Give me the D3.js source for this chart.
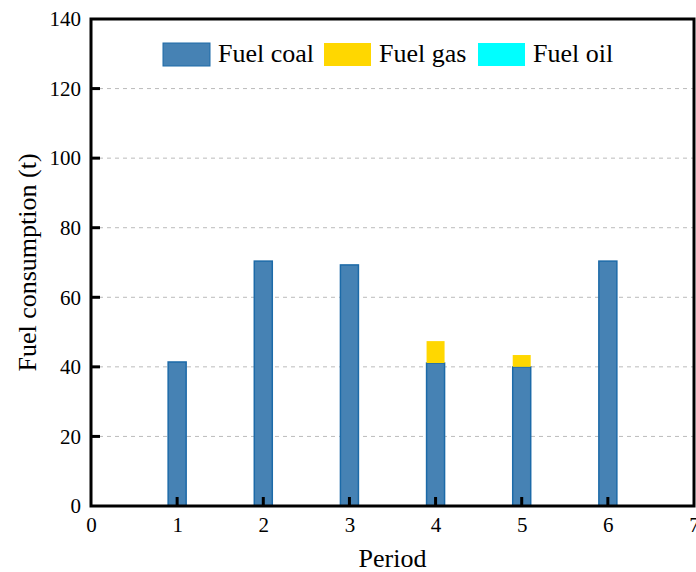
<!DOCTYPE html>
<html>
<head>
<meta charset="utf-8">
<script src="https://cdn.jsdelivr.net/npm/d3@7"></script>
<style>
  body { margin: 0; background: #fff; }
  svg { display: block; font-family: "Liberation Serif", "DejaVu Serif", serif; }
</style>
</head>
<body>
<div id="chart-area"></div>
<script>
const periods = [1, 2, 3, 4, 5, 6]
const fuelCoal = [41.4, 70.4, 69.3, 41.1, 40.0, 70.4]
const fuelGas = [0, 0, 0, 6.3, 3.4, 0]
const fuelOil = [0, 0, 0, 0, 0, 0]
const seriesNames = ["Fuel coal", "Fuel gas", "Fuel oil"]
const seriesColors = ["#4682b4", "#ffd700", "#00ffff"]
const xTicks = [0, 1, 2, 3, 4, 5, 6, 7]
const yTicks = [0, 20, 40, 60, 80, 100, 120, 140]

const MARGIN = { LEFT: 91, RIGHT: 2, TOP: 19, BOTTOM: 66 }
const WIDTH = 696 - MARGIN.LEFT - MARGIN.RIGHT
const HEIGHT = 572 - MARGIN.TOP - MARGIN.BOTTOM

const svg = d3.select("#chart-area").append("svg")
    .attr("width", 696)
    .attr("height", 572)

const g = svg.append("g")
    .attr("transform", `translate(${MARGIN.LEFT}, ${MARGIN.TOP})`)

const x = d3.scaleLinear().domain([0, 7]).range([0, WIDTH])
const y = d3.scaleLinear().domain([0, 140]).range([HEIGHT, 0])

// grid
g.selectAll(".grid")
    .data(yTicks.filter(d => d > 0 && d < 140))
    .enter().append("line")
    .attr("x1", 0).attr("x2", WIDTH)
    .attr("y1", d => y(d)).attr("y2", d => y(d))
    .attr("stroke", "#bbb")
    .attr("stroke-width", 1)
    .attr("stroke-dasharray", "4,4")

// stacked bars
const rows = periods.map((p, i) => ({ period: p, coal: fuelCoal[i], gas: fuelGas[i], oil: fuelOil[i] }))
const stack = d3.stack().keys(["coal", "gas", "oil"])(rows)
const barW = 18

stack.forEach((layer, k) => {
    g.selectAll(".bar" + k)
        .data(layer.filter(d => d[1] - d[0] > 0))
        .enter().append("rect")
        .attr("x", d => x(d.data.period) - barW / 2)
        .attr("y", d => y(d[1]))
        .attr("width", barW)
        .attr("height", d => y(d[0]) - y(d[1]))
        .attr("fill", seriesColors[k])
        .attr("stroke", k === 0 ? "#1c6aa8" : "none")
        .attr("stroke-width", 1.5)
})

// frame
g.append("rect")
    .attr("x", 0).attr("y", 0)
    .attr("width", WIDTH).attr("height", HEIGHT)
    .attr("fill", "none")
    .attr("stroke", "#000")
    .attr("stroke-width", 3)

// axes
const xAxisCall = d3.axisBottom(x).tickValues(xTicks).tickSize(0).tickPadding(11)
    .tickFormat(d3.format("d"))
const xAx = g.append("g")
    .attr("transform", `translate(0, ${HEIGHT})`)
    .call(xAxisCall)
xAx.select(".domain").remove()
xAx.selectAll("text").attr("font-size", "21px").attr("fill", "#000").attr("font-family", "Liberation Serif")

const yAxisCall = d3.axisLeft(y).tickValues(yTicks).tickSize(0).tickPadding(10)
    .tickFormat(d3.format("d"))
const yAx = g.append("g").call(yAxisCall)
yAx.select(".domain").remove()
yAx.selectAll("text").attr("font-size", "21px").attr("fill", "#000").attr("font-family", "Liberation Serif")

// inward ticks
g.selectAll(".xtick")
    .data(periods)
    .enter().append("line")
    .attr("x1", d => x(d)).attr("x2", d => x(d))
    .attr("y1", HEIGHT).attr("y2", HEIGHT - 9)
    .attr("stroke", "#000").attr("stroke-width", 3)

g.selectAll(".ytick")
    .data(yTicks.filter(d => d > 0 && d < 140))
    .enter().append("line")
    .attr("x1", 0).attr("x2", 9)
    .attr("y1", d => y(d)).attr("y2", d => y(d))
    .attr("stroke", "#000").attr("stroke-width", 3)

// axis labels
g.append("text")
    .attr("x", WIDTH / 2)
    .attr("y", HEIGHT + 61)
    .attr("font-size", "26px")
    .attr("text-anchor", "middle")
    .text("Period")

g.append("text")
    .attr("x", -(HEIGHT / 2))
    .attr("y", -55)
    .attr("font-size", "26px")
    .attr("text-anchor", "middle")
    .attr("transform", "rotate(-90)")
    .text("Fuel consumption (t)")

// legend
const legendX = [163, 324, 478]
const legend = svg.selectAll(".legend")
    .data(seriesNames)
    .enter().append("g")
    .attr("transform", (d, i) => `translate(${legendX[i]}, 43)`)

legend.append("rect")
    .attr("width", 47).attr("height", 23)
    .attr("fill", (d, i) => seriesColors[i])
    .attr("stroke", (d, i) => i === 0 ? "#1c6aa8" : "none")
    .attr("stroke-width", 1)

legend.append("text")
    .attr("x", 55)
    .attr("y", 19)
    .attr("font-size", "26px")
    .text(d => d)
</script>
</body>
</html>
